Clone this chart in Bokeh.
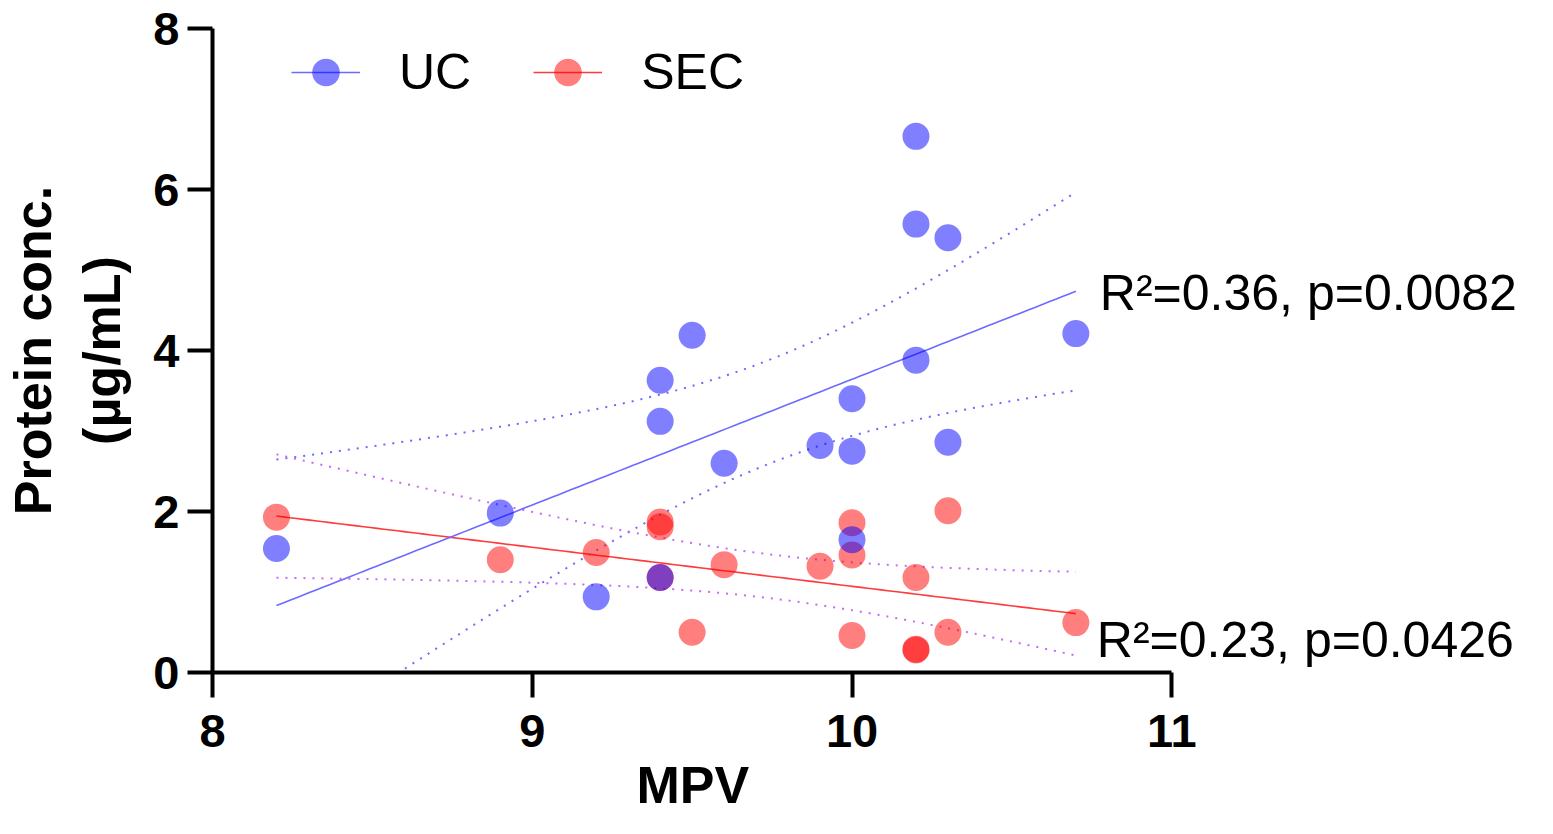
import numpy as np
from bokeh.plotting import figure
from bokeh.models import (FixedTicker, Legend, LegendItem, Label, ColumnDataSource, Range1d, Title)
from bokeh.embed import file_html
from bokeh.resources import INLINE

# ---------------- data ----------------
uc_mpv = [8.2, 8.9, 9.2, 9.4, 9.4, 9.4, 9.5, 9.6, 9.9, 10.0, 10.0, 10.0, 10.2, 10.2, 10.2, 10.3, 10.3, 10.7]
uc_conc = [1.54, 1.98, 0.94, 3.63, 3.12, 1.18, 4.19, 2.60, 2.82, 3.40, 2.75, 1.65, 6.66, 5.57, 3.88, 5.40, 2.86, 4.21]

sec_mpv = [8.2, 8.9, 9.2, 9.4, 9.4, 9.4, 9.5, 9.6, 9.9, 10.0, 10.0, 10.0, 10.2, 10.2, 10.2, 10.3, 10.3, 10.7]
sec_conc = [1.93, 1.40, 1.49, 1.87, 1.81, 1.18, 0.50, 1.34, 1.32, 1.86, 1.46, 0.46, 1.18, 0.29, 0.28, 2.01, 0.50, 0.62]

x_ticks = [8, 9, 10, 11]
y_ticks = [0, 2, 4, 6, 8]
x_title = "MPV"
y_title = "Protein conc.\n(\u00b5g/mL)"
uc_stats = "R\u00b2=0.36, p=0.0082"
sec_stats = "R\u00b2=0.23, p=0.0426"
T_CRIT = 2.12  # t(0.975, df=16)


def fit_with_ci(x, y):
    x = np.asarray(x, float)
    y = np.asarray(y, float)
    n = len(x)
    b, a = np.polyfit(x, y, 1)
    resid = y - (a + b * x)
    s = np.sqrt(np.sum(resid ** 2) / (n - 2))
    xbar = x.mean()
    sxx = np.sum((x - xbar) ** 2)
    xs = np.linspace(x.min(), x.max(), 120)
    yhat = a + b * xs
    half = T_CRIT * s * np.sqrt(1.0 / n + (xs - xbar) ** 2 / sxx)
    return xs, yhat, yhat - half, yhat + half


W, H = 1537, 818
LEFT, TOP, BOTTOM = 211, 28, 146
PX_PER_X = 320.0
x_end = 8 + (W - LEFT) / PX_PER_X   # frame runs to the right edge so the stats text is not clipped

p = figure(width=W, height=H, output_backend="svg", toolbar_location=None,
           x_range=Range1d(8, x_end), y_range=Range1d(0, 8),
           min_border_left=LEFT, min_border_right=0,
           min_border_top=TOP, min_border_bottom=BOTTOM)
p.grid.visible = False
p.outline_line_color = None
p.background_fill_color = "white"
p.border_fill_color = "white"

FONT = "Liberation Sans"
for ax in (p.xaxis[0], p.yaxis[0]):
    ax.axis_line_width = 4
    ax.axis_line_color = "black"
    ax.major_tick_line_width = 4
    ax.major_tick_line_color = "black"
    ax.major_tick_out = 25
    ax.major_tick_in = 0
    ax.minor_tick_line_color = None
    ax.major_label_text_font = FONT
    ax.major_label_text_font_style = "bold"
    ax.major_label_text_font_size = "47px"
    ax.major_label_text_color = "black"
    ax.axis_label_text_font = FONT
    ax.axis_label_text_font_style = "bold"
    ax.axis_label_text_font_size = "52px"
    ax.axis_label_text_color = "black"

p.xaxis.bounds = (8, 11)
p.yaxis.bounds = (0, 8)
p.xaxis.ticker = FixedTicker(ticks=x_ticks)
p.yaxis.ticker = FixedTicker(ticks=y_ticks)
p.yaxis.axis_label = y_title
p.xaxis.major_label_standoff = 17
p.yaxis.major_label_standoff = 8
p.yaxis.axis_label_standoff = 19

# x-axis title centred under the 8..11 span of the axis
p.add_layout(Title(text=x_title, align="left", offset=424, standoff=8,
                   text_font=FONT, text_font_style="bold", text_font_size="52px",
                   text_color="black"), "below")

BLUE = "#0000ff"
RED = "#ff0000"
BLUE_LINE = "#6b6bff"
RED_LINE = "#ff3a3a"
SEC_BAND = "#c56cf0"

# regression + confidence bands
uxs, uy, ulo, uhi = fit_with_ci(uc_mpv, uc_conc)
sxs, sy, slo, shi = fit_with_ci(sec_mpv, sec_conc)

p.line(uxs, uhi, line_color=BLUE_LINE, line_width=2, line_dash="2 7")
p.line(uxs, ulo, line_color=BLUE_LINE, line_width=2, line_dash="2 7")
p.line(sxs, shi, line_color=SEC_BAND, line_width=2, line_dash="2 7")
p.line(sxs, slo, line_color=SEC_BAND, line_width=2, line_dash="2 7")

sec_line = p.line(sxs, sy, line_color=RED_LINE, line_width=1.6)
uc_line = p.line(uxs, uy, line_color=BLUE_LINE, line_width=1.6)

sec_src = ColumnDataSource(dict(x=sec_mpv, y=sec_conc))
uc_src = ColumnDataSource(dict(x=uc_mpv, y=uc_conc))
sec_pts = p.scatter("x", "y", source=sec_src, size=27, fill_color=RED, fill_alpha=0.5,
                    line_color=None)
uc_pts = p.scatter("x", "y", source=uc_src, size=27, fill_color=BLUE, fill_alpha=0.5,
                   line_color=None)

legend = Legend(items=[LegendItem(label="UC", renderers=[uc_line, uc_pts]),
                       LegendItem(label="SEC", renderers=[sec_line, sec_pts])],
                orientation="horizontal", location=(79, 565),
                glyph_width=69, glyph_height=70, label_standoff=39, spacing=62,
                padding=0, margin=0, border_line_color=None, background_fill_alpha=0,
                label_text_font=FONT, label_text_font_size="50px", label_text_color="black")
p.add_layout(legend, "center")

p.add_layout(Label(x=10.7, y=4.71, x_offset=24, text=uc_stats, text_font=FONT,
                   text_font_size="50px", text_color="black", text_baseline="alphabetic"))
p.add_layout(Label(x=10.7, y=0.40, x_offset=21, text=sec_stats, text_font=FONT,
                   text_font_size="50px", text_color="black", text_baseline="alphabetic"))

open("out.html", "w").write(file_html(p, INLINE))
